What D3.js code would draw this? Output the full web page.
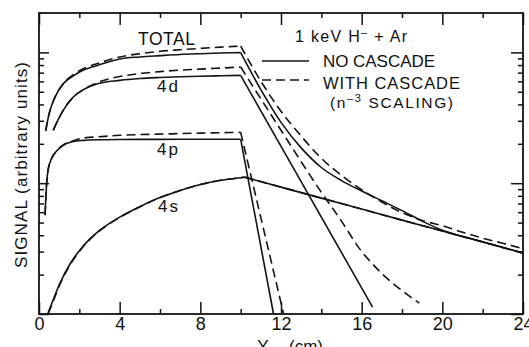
<!DOCTYPE html>
<html lang="en">
<head>
<meta charset="UTF-8">
<title>Signal vs Y</title>
<style>
  body { margin: 0; background: #fff; }
  svg { display: block; font-family: "Liberation Sans", Arial, sans-serif; fill: #111; }
  .curve { fill: none; stroke: #141414; stroke-width: 1.6; }
  .dashed { stroke-dasharray: 9 5; }
  .axis line { stroke: #141414; stroke-width: 1.5; }
  .axis path { display: none; }
  .axis text { font-size: 18px; fill: #111; font-family: "Liberation Sans", Arial, sans-serif; }
</style>
</head>
<body>
<svg></svg>
<script src="https://cdn.jsdelivr.net/npm/d3@7"></script>
<script>
const xTicksMajor = [0, 4, 8, 12, 16, 20, 24];
const xTicksMinor = [2, 6, 10, 14, 18, 22];
const yTicksMajor = [1, 10, 100];
const yTicksMinor = [2, 3, 4, 5, 6, 7, 8, 9, 20, 30, 40, 50, 60, 70, 80, 90];

// [Y (cm), signal (arbitrary units)]
const totalNoCascade = [
  [0.33, 25.12], [0.5, 33.88], [0.8, 45.71], [1.2, 57.54], [1.7, 66.07], [2.2, 73.28],
  [2.9, 79.43], [4, 89.1], [5, 92.3], [6, 94.41], [7, 96.38], [8, 97.72], [9, 98.86],
  [10, 99.54], [11, 51.88], [12, 29.17], [13, 18.62], [14, 13.18], [15, 10.47],
  [16, 8.71], [17, 7.33], [18, 6.17], [19, 5.13], [20, 4.37], [22, 3.57], [24, 2.93]
];
const totalCascade = [
  [0.33, 25.12], [0.5, 33.88], [0.8, 45.71], [1.2, 57.54], [1.7, 67.61], [2.2, 74.99],
  [2.9, 82.22], [4, 92.26], [5, 97.72], [6, 101.9], [7, 104.7], [8, 107.2], [9, 109.6],
  [10, 111.7], [11, 60.26], [12, 35.48], [13, 22.91], [14, 15.49], [15, 11.48],
  [16, 8.91], [17, 7.16], [18, 5.96], [19, 5.19], [20, 4.73], [21, 4.22], [22, 3.80],
  [23, 3.47], [24, 3.16]
];
const d4NoCascade = [
  [0.71, 25.41], [0.9, 29.51], [1.2, 36.06], [1.7, 45.6], [2.2, 51.88], [2.9, 57.54],
  [4, 61.09], [5, 63.1], [6, 64.27], [7, 65.16], [8, 65.77], [9, 66.22], [10, 66.68],
  [16.54, 1.13]
];
const d4Cascade = [
  [0.71, 25.41], [0.9, 29.51], [1.2, 36.06], [1.7, 45.6], [2.2, 51.88], [2.9, 58.88],
  [4, 65.31], [5, 68.87], [6, 71.29], [7, 73.11], [8, 74.47], [9, 75.86], [10, 77.27],
  [11, 44.16], [12, 25.41], [13.27, 12.59], [14, 8.51], [15, 5.13], [15.89, 3.16],
  [16.5, 2.45], [17, 2.04], [17.52, 1.73], [18.2, 1.43], [18.86, 1.21]
];
const p4NoCascade = [
  [0.3, 5.7], [0.38, 10], [0.45, 12.59], [0.63, 15.49], [0.9, 17.78], [1.2, 19.5],
  [1.7, 20.8], [2.2, 21.23], [3, 21.48], [4, 21.58], [6, 21.63], [8, 21.66],
  [10, 21.68], [11.63, 1]
];
const p4Cascade = [
  [0.3, 5.7], [0.38, 10], [0.45, 12.59], [0.63, 15.49], [0.9, 17.78], [1.2, 19.6],
  [1.7, 21.1], [2.2, 22.13], [3, 22.65], [4, 23.23], [6, 23.71], [8, 24.15],
  [10, 24.49], [12.13, 1]
];
const s4NoCascade = [
  [0.45, 1.02], [0.71, 1.29], [1.04, 1.72], [1.53, 2.4], [2.03, 3.09], [2.5, 3.72],
  [3.02, 4.37], [4, 5.5], [5, 6.61], [6, 7.76], [7, 8.81], [8, 9.77], [9, 10.52],
  [10, 11.02], [10.2, 11.12], [12, 9.33], [14, 7.69], [16, 6.34], [18, 5.22],
  [20, 4.31], [22, 3.55], [24, 2.92]
];
const s4Cascade = [
  [0.45, 1.0], [0.71, 1.26], [1.04, 1.69], [1.53, 2.36], [2.03, 3.05], [2.5, 3.68],
  [3.02, 4.33], [4, 5.47], [5, 6.6], [6, 7.76], [7, 8.81], [8, 9.77], [9, 10.52],
  [10, 11.02], [10.2, 11.12], [12, 9.33], [14, 7.69], [16, 6.34], [18, 5.22],
  [20, 4.31], [22, 3.55], [24, 2.92]
];

const width = 529;
const height = 347;

const svg = d3.select("svg")
  .attr("width", width)
  .attr("height", height);

const x = d3.scaleLinear().domain([0, 24]).range([39, 523]);
const y = d3.scaleLog().domain([1, 200]).range([314, 13]);

// inward ticks on all four sides
const addAxis = (axis, tx, ty, values, len, labels) => {
  svg.append("g")
    .attr("class", "axis")
    .attr("transform", `translate(${tx},${ty})`)
    .call(axis.tickValues(values).tickSizeInner(-len).tickSizeOuter(0).tickPadding(3)
      .tickFormat(labels ? d3.format("d") : () => ""));
};
addAxis(d3.axisBottom(x), 0, 314, xTicksMajor, 12, true);
addAxis(d3.axisBottom(x), 0, 314, xTicksMinor, 5, false);
addAxis(d3.axisTop(x), 0, 13, xTicksMajor, 12, false);
addAxis(d3.axisTop(x), 0, 13, xTicksMinor, 5, false);
addAxis(d3.axisLeft(y), 39, 0, yTicksMajor, 10, false);
addAxis(d3.axisLeft(y), 39, 0, yTicksMinor, 5, false);
addAxis(d3.axisRight(y), 523, 0, yTicksMajor, 12, false);
addAxis(d3.axisRight(y), 523, 0, yTicksMinor, 5, false);

svg.append("rect")
  .attr("x", x(0)).attr("y", y(200))
  .attr("width", x(24) - x(0)).attr("height", y(1) - y(200))
  .attr("fill", "none").attr("stroke", "#141414").attr("stroke-width", 1.8);

const series = [
  { data: s4NoCascade, dashed: false },
  { data: s4Cascade, dashed: true },
  { data: p4NoCascade, dashed: false },
  { data: p4Cascade, dashed: true },
  { data: d4NoCascade, dashed: false },
  { data: d4Cascade, dashed: true },
  { data: totalNoCascade, dashed: false },
  { data: totalCascade, dashed: true }
];

const line = d3.line()
  .x(d => x(d[0]))
  .y(d => y(d[1]))
  .curve(d3.curveMonotoneX);

// rising part and decaying part drawn separately so the corner stays sharp
const pieces = d => {
  const i = d3.maxIndex(d, p => p[1]);
  return [d.slice(0, i + 1), d.slice(i)].filter(s => s.length > 1);
};

series.forEach(s => {
  pieces(s.data).forEach(part => {
    svg.append("path")
      .attr("class", s.dashed ? "curve dashed" : "curve")
      .attr("d", line(part));
  });
});

// legend
svg.append("line").attr("class", "curve")
  .attr("x1", 262).attr("x2", 309).attr("y1", 61).attr("y2", 61);
svg.append("line").attr("class", "curve dashed")
  .attr("x1", 262).attr("x2", 309).attr("y1", 80).attr("y2", 80);

const label = (px, py, size, len) => {
  const t = svg.append("text")
    .attr("x", px).attr("y", py)
    .attr("font-size", size);
  if (len) t.attr("textLength", len).attr("lengthAdjust", "spacing");
  return t;
};

const head = label(295, 42, 16, 112);
head.append("tspan").text("1 keV H");
head.append("tspan").attr("dy", -6).attr("font-size", 11).text("\u2013");
head.append("tspan").attr("dy", 6).text(" + Ar");

label(323, 67, 17, 112).text("NO CASCADE");
label(323, 89, 16.5, 137).text("WITH CASCADE");
const sc = label(330, 108, 15.5, 123);
sc.append("tspan").text("(n");
sc.append("tspan").attr("dy", -6).attr("font-size", 11).text("\u20133");
sc.append("tspan").attr("dy", 6).text(" SCALING)");

label(138, 44.5, 17.5, 57).text("TOTAL");
label(157, 91.5, 17, 21).text("4d");
label(157, 155, 17, 21).text("4p");
label(158, 211.5, 17, 20).text("4s");

// axis titles
const xt = svg.append("text")
  .attr("y", 352)
  .attr("font-size", 17)
  .attr("text-anchor", "middle");
xt.append("tspan").attr("x", 263).text("Y");
xt.append("tspan").attr("x", 306).text("(cm)");

svg.append("text")
  .attr("transform", "translate(27,165) rotate(-90)")
  .attr("text-anchor", "middle")
  .attr("font-size", 17)
  .attr("textLength", 206)
  .attr("lengthAdjust", "spacing")
  .text("SIGNAL (arbitrary units)");
</script>
</body>
</html>
